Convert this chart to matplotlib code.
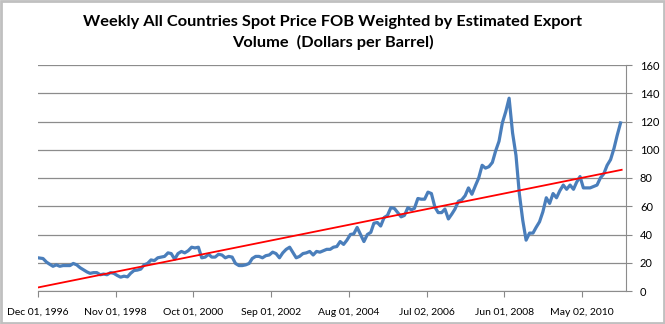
import matplotlib
matplotlib.use("Agg")
import matplotlib.pyplot as plt
import matplotlib.dates as mdates
import numpy as np
from datetime import datetime
from matplotlib.patches import Rectangle

# ---- data ----
months = [
 "1996-12","1997-01","1997-02","1997-03","1997-04","1997-05","1997-06","1997-07","1997-08","1997-09","1997-10","1997-11","1997-12",
 "1998-01","1998-02","1998-03","1998-04","1998-05","1998-06","1998-07","1998-08","1998-09","1998-10","1998-11","1998-12",
 "1999-01","1999-02","1999-03","1999-04","1999-05","1999-06","1999-07","1999-08","1999-09","1999-10","1999-11","1999-12",
 "2000-01","2000-02","2000-03","2000-04","2000-05","2000-06","2000-07","2000-08","2000-09","2000-10","2000-11","2000-12",
 "2001-01","2001-02","2001-03","2001-04","2001-05","2001-06","2001-07","2001-08","2001-09","2001-10","2001-11","2001-12",
 "2002-01","2002-02","2002-03","2002-04","2002-05","2002-06","2002-07","2002-08","2002-09","2002-10","2002-11","2002-12",
 "2003-01","2003-02","2003-03","2003-04","2003-05","2003-06","2003-07","2003-08","2003-09","2003-10","2003-11","2003-12",
 "2004-01","2004-02","2004-03","2004-04","2004-05","2004-06","2004-07","2004-08","2004-09","2004-10","2004-11","2004-12",
 "2005-01","2005-02","2005-03","2005-04","2005-05","2005-06","2005-07","2005-08","2005-09","2005-10","2005-11","2005-12",
 "2006-01","2006-02","2006-03","2006-04","2006-05","2006-06","2006-07","2006-08","2006-09","2006-10","2006-11","2006-12",
 "2007-01","2007-02","2007-03","2007-04","2007-05","2007-06","2007-07","2007-08","2007-09","2007-10","2007-11","2007-12",
 "2008-01","2008-02","2008-03","2008-04","2008-05","2008-06","2008-07","2008-08","2008-09","2008-10","2008-11","2008-12",
 "2009-01","2009-02","2009-03","2009-04","2009-05","2009-06","2009-07","2009-08","2009-09","2009-10","2009-11","2009-12",
 "2010-01","2010-02","2010-03","2010-04","2010-05","2010-06","2010-07","2010-08","2010-09","2010-10","2010-11","2010-12",
 "2011-01","2011-02","2011-03","2011-04",
]
prices = [
 23.5, 23.0,20.5,19.0,17.5,18.5,17.5,18.0,18.0,18.0,19.5,18.5,16.5,
 15.0,13.5,12.5,13.0,13.0,11.5,12.0,11.5,13.0,12.5,11.0,9.8,
 10.5,10.0,12.5,14.5,14.8,15.5,18.5,19.5,22.0,21.5,23.5,24.0,
 24.5,27.0,26.5,22.5,26.5,28.0,27.0,28.5,31.0,30.5,31.0,23.5,
 24.0,26.0,24.0,24.0,26.0,25.5,23.5,24.5,24.0,19.5,18.0,18.0,
 18.5,19.5,23.0,24.5,24.5,23.5,25.0,25.5,27.5,26.5,23.5,27.0,
 29.5,31.0,27.5,23.5,24.5,26.5,27.0,28.0,25.5,28.0,27.5,28.5,
 29.5,29.5,31.0,31.5,35.0,33.0,36.0,40.0,40.5,45.0,40.0,35.0,
 40.0,41.5,48.0,48.5,46.0,52.0,53.5,59.0,58.5,55.5,52.5,53.5,
 59.0,57.5,58.5,65.5,65.0,65.0,70.0,69.0,59.5,55.5,55.5,58.0,
 51.0,54.5,58.0,63.5,64.5,67.5,73.0,68.5,74.5,80.0,89.0,87.0,
 88.0,91.0,99.0,106.0,119.0,127.0,136.5,112.0,96.0,69.0,50.0,36.0,
 41.0,41.0,45.0,49.0,56.0,66.0,62.0,69.0,66.0,71.0,75.0,72.0,
 75.0,72.0,77.0,81.0,73.0,73.0,73.0,74.0,75.0,80.0,83.0,89.0,
 93.0,101.0,110.0,119.0,
]
trend_dates = ["1996-12-01", "2011-04-25"]
trend_values = [2.5, 85.8]

tick_dates = ["1996-12-01","1998-11-01","2000-10-01","2002-09-01",
              "2004-08-01","2006-07-02","2008-06-01","2010-05-02"]
tick_labels = ["Dec 01, 1996","Nov 01, 1998","Oct 01, 2000","Sep 01, 2002",
               "Aug 01, 2004","Jul 02, 2006","Jun 01, 2008","May 02, 2010"]
y_ticks = [0, 20, 40, 60, 80, 100, 120, 140, 160]

title = "Weekly All Countries Spot Price FOB Weighted by Estimated Export\nVolume  (Dollars per Barrel)"

# ---- figure ----
plt.rcParams['font.family'] = ['Lato', 'DejaVu Sans']
fig = plt.figure(figsize=(6.65, 3.24), dpi=100)
fig.patches.append(Rectangle((0.002, 0.003), 0.996, 0.994, transform=fig.transFigure,
                             fill=False, edgecolor='#c0c0c0', linewidth=2.0))
ax = fig.add_axes([38/665, 33/324, 588/665, 226/324])

x = [datetime.strptime(m + "-15", "%Y-%m-%d") for m in months]
x[0] = datetime(1996, 12, 1)
ax.plot(x, prices, color='#4a7ebb', linewidth=2.3, solid_joinstyle='round', zorder=3)
ax.plot([datetime.strptime(d, "%Y-%m-%d") for d in trend_dates], trend_values,
        color='#ff0000', linewidth=1.3, zorder=4)

ax.set_xlim(datetime(1996, 12, 1), datetime(2011, 6, 3))
ax.set_ylim(0, 160)
ax.yaxis.tick_right()
ax.set_yticks(y_ticks)
ax.set_yticklabels([str(v) for v in y_ticks], fontsize=8)
ax.set_xticks([datetime.strptime(d, "%Y-%m-%d") for d in tick_dates])
ax.set_xticklabels(tick_labels, fontsize=7.5)
ax.tick_params(axis='x', length=4, color='#888888', pad=8)
ax.tick_params(axis='y', length=4, color='#888888', pad=6)
ax.grid(axis='y', color='#8c8c8c', linewidth=0.9)
ax.set_axisbelow(True)
for s in ['top', 'left']:
    ax.spines[s].set_visible(False)
ax.spines['right'].set_color('#8c8c8c')
ax.spines['bottom'].set_color('#8c8c8c')

fig.text(0.5, 0.955, title, ha='center', va='top', fontsize=11.8,
         fontweight='bold', linespacing=1.55)

fig.savefig("out.png", dpi=100)
